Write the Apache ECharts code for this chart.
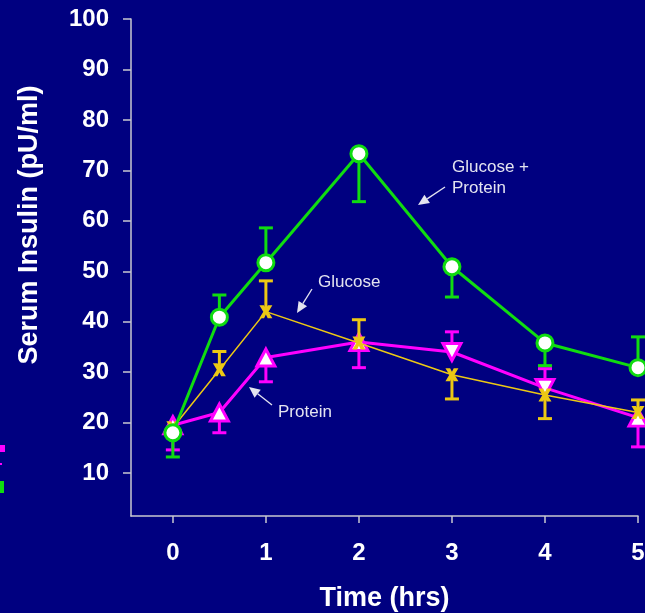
<!DOCTYPE html>
<html>
<head>
<meta charset="utf-8">
<script src="https://cdn.jsdelivr.net/npm/echarts@6/dist/echarts.min.js"></script>
<style>
html,body{margin:0;padding:0;background:#000080;}
#c{width:645px;height:613px;}
</style>
</head>
<body>
<div id="c"></div>
<script>
// ---- data ----
var times = [0, 0.5, 1, 2, 3, 4, 5];
var glucoseProtein = [18.0, 40.9, 51.7, 73.3, 50.9, 35.8, 30.9];
var glucoseProteinErr = [13.2, 45.3, 58.6, 63.8, 44.9, 31.3, 37.0];
var glucose = [19.0, 30.5, 42.0, 35.8, 29.5, 25.5, 22.0];
var glucoseErr = [null, 34.1, 48.1, 40.4, 24.7, 20.8, 24.5];
var protein = [19.5, 22.0, 32.9, 36.0, 34.0, 26.9, 21.0];
var proteinErr = [14.6, 18.0, 28.1, 30.9, 38.0, 30.7, 15.2];
var proteinPointsDown = [false, false, false, false, true, true, false];
var xTicks = [0, 1, 2, 3, 4, 5];
var yTicks = [10, 20, 30, 40, 50, 60, 70, 80, 90, 100];

var GREEN = '#10dc10', MAGENTA = '#ff00ff', YELLOW = '#ecc814', AXIS = '#c8c8d0', NOTE = '#e4e4f0';

function pairs(ys) { return times.map(function (t, i) { return [t, ys[i]]; }); }
function errData(ys, es) {
  var out = [];
  times.forEach(function (t, i) { if (es[i] != null) out.push([t, ys[i], es[i]]); });
  return out;
}
function errSeries(ys, es, color, z) {
  return {
    type: 'custom', z: z, silent: true,
    data: errData(ys, es),
    renderItem: function (params, api) {
      var p0 = api.coord([api.value(0), api.value(1)]);
      var p1 = api.coord([api.value(0), api.value(2)]);
      var st = { stroke: color, lineWidth: 3 };
      return {
        type: 'group', children: [
          { type: 'line', shape: { x1: p0[0], y1: p0[1], x2: p1[0], y2: p1[1] }, style: st },
          { type: 'line', shape: { x1: p1[0] - 7, y1: p1[1], x2: p1[0] + 7, y2: p1[1] }, style: st }
        ]
      };
    }
  };
}
function arrow(x1, y1, x2, y2) {
  var a = Math.atan2(y2 - y1, x2 - x1), L = 11, W = 5;
  var bx = x2 - L * Math.cos(a), by = y2 - L * Math.sin(a);
  var nx = -Math.sin(a) * W, ny = Math.cos(a) * W;
  return [
    { type: 'line', shape: { x1: x1, y1: y1, x2: bx, y2: by }, style: { stroke: NOTE, lineWidth: 1.3 } },
    { type: 'polygon', shape: { points: [[x2, y2], [bx + nx, by + ny], [bx - nx, by - ny]] }, style: { fill: NOTE } }
  ];
}
var X_PATH = 'path://M0,0 L3.6,0 L5,2.8 L6.4,0 L10,0 L7,5 L10,10 L6.4,10 L5,7.2 L3.6,10 L0,10 L3,5 Z';

var chart = echarts.init(document.getElementById('c'));
var graphics = [
  { type: 'text', x: 30, y: 225, rotation: Math.PI / 2,
    style: { text: 'Serum Insulin (pU/ml)', fill: '#ffffff', font: 'bold 27px "Liberation Sans", Arial, sans-serif', align: 'center', verticalAlign: 'middle' } },
  { type: 'text', x: 452, y: 167, style: { text: 'Glucose +', fill: NOTE, font: '17px "Liberation Sans", Arial, sans-serif', verticalAlign: 'middle' } },
  { type: 'text', x: 452, y: 188, style: { text: 'Protein', fill: NOTE, font: '17px "Liberation Sans", Arial, sans-serif', verticalAlign: 'middle' } },
  { type: 'text', x: 318, y: 282, style: { text: 'Glucose', fill: NOTE, font: '17px "Liberation Sans", Arial, sans-serif', verticalAlign: 'middle' } },
  { type: 'text', x: 278, y: 412, style: { text: 'Protein', fill: NOTE, font: '17px "Liberation Sans", Arial, sans-serif', verticalAlign: 'middle' } },
  { type: 'rect', shape: { x: 0, y: 445, width: 5, height: 7 }, style: { fill: MAGENTA } },
  { type: 'rect', shape: { x: 0, y: 463, width: 2, height: 2 }, style: { fill: MAGENTA } },
  { type: 'rect', shape: { x: 0, y: 481, width: 4, height: 12 }, style: { fill: GREEN } }
].concat(arrow(445, 187, 418, 205), arrow(312, 289, 297, 313), arrow(272, 405, 249, 387));

chart.setOption({
  backgroundColor: '#000080',
  animation: false,
  grid: { left: 131, right: 7, top: 19, bottom: 97, containLabel: false, outerBoundsMode: 'none' },
  xAxis: {
    type: 'value', min: -0.45, max: 5,
    name: 'Time (hrs)', nameLocation: 'middle', nameGap: 69,
    nameTextStyle: { color: '#ffffff', fontSize: 27, fontWeight: 'bold', fontFamily: '"Liberation Sans", Arial, sans-serif' },
    axisLine: { show: true, onZero: false, lineStyle: { color: AXIS, width: 1.5 } },
    axisTick: { show: true, length: 7, customValues: xTicks, lineStyle: { color: AXIS, width: 1.5 } },
    axisLabel: { customValues: xTicks, color: '#ffffff', fontSize: 24, fontWeight: 'bold', margin: 25, fontFamily: '"Liberation Sans", Arial, sans-serif' },
    splitLine: { show: false }
  },
  yAxis: {
    type: 'value', min: 1.5, max: 100,
    axisLine: { show: true, onZero: false, lineStyle: { color: AXIS, width: 1.5 } },
    axisTick: { show: true, length: 8, customValues: yTicks, lineStyle: { color: AXIS, width: 1.5 } },
    axisLabel: { customValues: yTicks, color: '#ffffff', fontSize: 24, fontWeight: 'bold', margin: 22, fontFamily: '"Liberation Sans", Arial, sans-serif' },
    splitLine: { show: false }
  },
  graphic: graphics,
  series: [
    errSeries(protein, proteinErr, MAGENTA, 2),
    {
      type: 'line', z: 3, name: 'Protein',
      data: times.map(function (t, i) {
        return { value: [t, protein[i]], symbolRotate: proteinPointsDown[i] ? 180 : 0 };
      }),
      symbol: 'triangle', symbolSize: [18, 17],
      lineStyle: { color: MAGENTA, width: 3 },
      itemStyle: { color: '#ffffff', borderColor: MAGENTA, borderWidth: 3 }
    },
    errSeries(glucose, glucoseErr, YELLOW, 4),
    {
      type: 'line', z: 5, name: 'Glucose',
      data: pairs(glucose),
      symbol: X_PATH, symbolSize: 13,
      lineStyle: { color: YELLOW, width: 1.5 },
      itemStyle: { color: YELLOW }
    },
    errSeries(glucoseProtein, glucoseProteinErr, GREEN, 6),
    {
      type: 'line', z: 7, name: 'Glucose + Protein',
      data: pairs(glucoseProtein),
      symbol: 'circle', symbolSize: 16,
      lineStyle: { color: GREEN, width: 3 },
      itemStyle: { color: '#ffffff', borderColor: GREEN, borderWidth: 3 }
    }
  ]
});
</script>
</body>
</html>
